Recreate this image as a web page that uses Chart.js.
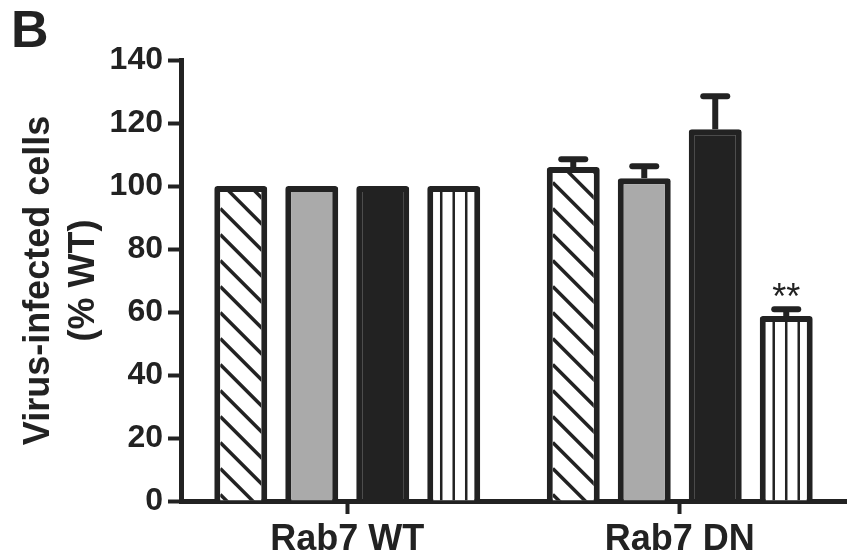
<!DOCTYPE html>
<html>
<head>
<meta charset="utf-8">
<script src="https://cdn.jsdelivr.net/npm/chart.js@4/dist/chart.umd.min.js"></script>
<style>
  html, body { margin: 0; padding: 0; background: #fff; }
  #wrap { width: 847px; height: 560px; }
</style>
</head>
<body>
<div id="wrap"><canvas id="chart" width="847" height="560"></canvas></div>
<script>
// === Data ===
const categories = ["Rab7 WT", "Rab7 DN"];
const hatchedValues = [100, 106];
const grayValues = [100, 102.5];
const blackValues = [100, 118];
const stripedValues = [100, 58.7];
const hatchedErrors = [0, 2.5];
const grayErrors = [0, 3.8];
const blackErrors = [0, 10.5];
const stripedErrors = [0, 2.2];
const yTicks = [0, 20, 40, 60, 80, 100, 120, 140];
const significance = ["", "**"]; // shown over the striped bar

const ink = "#222222";
const fontFamily = "'Liberation Sans', Arial, sans-serif";

// === Patterns, error bars, annotations ===
const decorPlugin = {
  id: "decor",
  afterDatasetsDraw(chart) {
    const ctx = chart.ctx;
    const yScale = chart.scales.y;
    const bw = 6;

    const innerRect = (bar) => {
      const p = bar.getProps(["x", "y", "base", "width"], true);
      return {
        left: p.x - p.width / 2 + bw,
        right: p.x + p.width / 2 - bw,
        top: p.y + bw,
        bottom: p.base,
        x: p.x
      };
    };

    // diagonal hatch on first series
    chart.getDatasetMeta(0).data.forEach((bar) => {
      const r = innerRect(bar);
      ctx.save();
      ctx.beginPath();
      ctx.rect(r.left, r.top, r.right - r.left, r.bottom - r.top);
      ctx.clip();
      ctx.strokeStyle = ink;
      ctx.lineWidth = 3.5;
      const step = 26;
      const h = r.bottom - r.top;
      for (let y0 = r.bottom + 20; y0 > r.top - (r.right - r.left) - step; y0 -= step) {
        ctx.beginPath();
        ctx.moveTo(r.left, y0);
        ctx.lineTo(r.right + 10, y0 + (r.right + 10 - r.left));
        ctx.stroke();
      }
      ctx.restore();
    });

    // vertical stripes on fourth series
    chart.getDatasetMeta(3).data.forEach((bar) => {
      const r = innerRect(bar);
      ctx.save();
      ctx.beginPath();
      ctx.rect(r.left, r.top, r.right - r.left, r.bottom - r.top);
      ctx.clip();
      ctx.strokeStyle = ink;
      ctx.lineWidth = 2.5;
      [-12.5, 0, 12.5].forEach((dx) => {
        ctx.beginPath();
        ctx.moveTo(r.x + dx, r.top);
        ctx.lineTo(r.x + dx, r.bottom);
        ctx.stroke();
      });
      ctx.restore();
    });

    // error bars (upper only)
    const errorSets = [hatchedErrors, grayErrors, blackErrors, stripedErrors];
    chart.data.datasets.forEach((ds, i) => {
      chart.getDatasetMeta(i).data.forEach((bar, j) => {
        const err = errorSets[i][j];
        if (!err) return;
        const p = bar.getProps(["x", "y"], true);
        const yTop = yScale.getPixelForValue(ds.data[j] + err);
        ctx.save();
        ctx.strokeStyle = ink;
        ctx.lineWidth = 6;
        ctx.beginPath();
        ctx.moveTo(p.x, p.y);
        ctx.lineTo(p.x, yTop);
        ctx.stroke();
        ctx.lineCap = "round";
        ctx.beginPath();
        ctx.moveTo(p.x - 12, yTop);
        ctx.lineTo(p.x + 12, yTop);
        ctx.stroke();
        ctx.restore();
      });
    });

    // significance stars over the last series
    chart.getDatasetMeta(3).data.forEach((bar, j) => {
      if (!significance[j]) return;
      const p = bar.getProps(["x"], true);
      const yTop = yScale.getPixelForValue(stripedValues[j] + stripedErrors[j]);
      ctx.save();
      ctx.fillStyle = ink;
      ctx.font = "36px " + fontFamily;
      ctx.textAlign = "center";
      ctx.textBaseline = "alphabetic";
      ctx.fillText(significance[j], p.x, yTop);
      ctx.restore();
    });
  },
  afterDraw(chart) {
    const ctx = chart.ctx;
    ctx.save();
    ctx.fillStyle = ink;
    ctx.font = "bold 52px " + fontFamily;
    ctx.textBaseline = "alphabetic";
    ctx.fillText("B", 11, 47);
    ctx.restore();
  }
};

const barStyle = {
  borderColor: ink,
  borderWidth: 6,
  borderRadius: 3,
  barPercentage: 0.746,
  categoryPercentage: 0.854
};

new Chart(document.getElementById("chart"), {
  type: "bar",
  data: {
    labels: categories,
    datasets: [
      { label: "hatched", data: hatchedValues, backgroundColor: "#ffffff", ...barStyle },
      { label: "gray", data: grayValues, backgroundColor: "#aaaaaa", ...barStyle },
      { label: "black", data: blackValues, backgroundColor: ink, ...barStyle },
      { label: "striped", data: stripedValues, backgroundColor: "#ffffff", ...barStyle }
    ]
  },
  options: {
    responsive: false,
    animation: false,
    layout: { padding: { top: 60, right: 1, bottom: 0, left: 0 } },
    plugins: {
      legend: { display: false },
      tooltip: { enabled: false }
    },
    scales: {
      x: {
        afterFit: (scale) => { scale.height = 59; },
        grid: {
          display: true,
          drawOnChartArea: false,
          drawTicks: true,
          offset: false,
          tickLength: 13,
          tickWidth: 4,
          tickColor: ink
        },
        border: { display: true, color: ink, width: 5 },
        ticks: {
          color: ink,
          padding: 4,
          font: { family: fontFamily, size: 36, weight: "bold" }
        }
      },
      y: {
        min: 0,
        max: 140,
        afterFit: (scale) => { scale.width = 181; },
        afterBuildTicks: (scale) => { scale.ticks = yTicks.map((v) => ({ value: v })); },
        grid: {
          display: true,
          drawOnChartArea: false,
          drawTicks: true,
          tickLength: 13,
          tickWidth: 4,
          tickColor: ink
        },
        border: { display: true, color: ink, width: 5 },
        ticks: {
          color: ink,
          padding: 5,
          font: { family: fontFamily, size: 32, weight: "bold" }
        },
        title: {
          display: true,
          text: ["Virus-infected cells", "(% WT)"],
          color: ink,
          padding: { top: 17, bottom: 0 },
          font: { family: fontFamily, size: 36, weight: "bold", lineHeight: 1.25 }
        }
      }
    }
  },
  plugins: [decorPlugin]
});
</script>
</body>
</html>
